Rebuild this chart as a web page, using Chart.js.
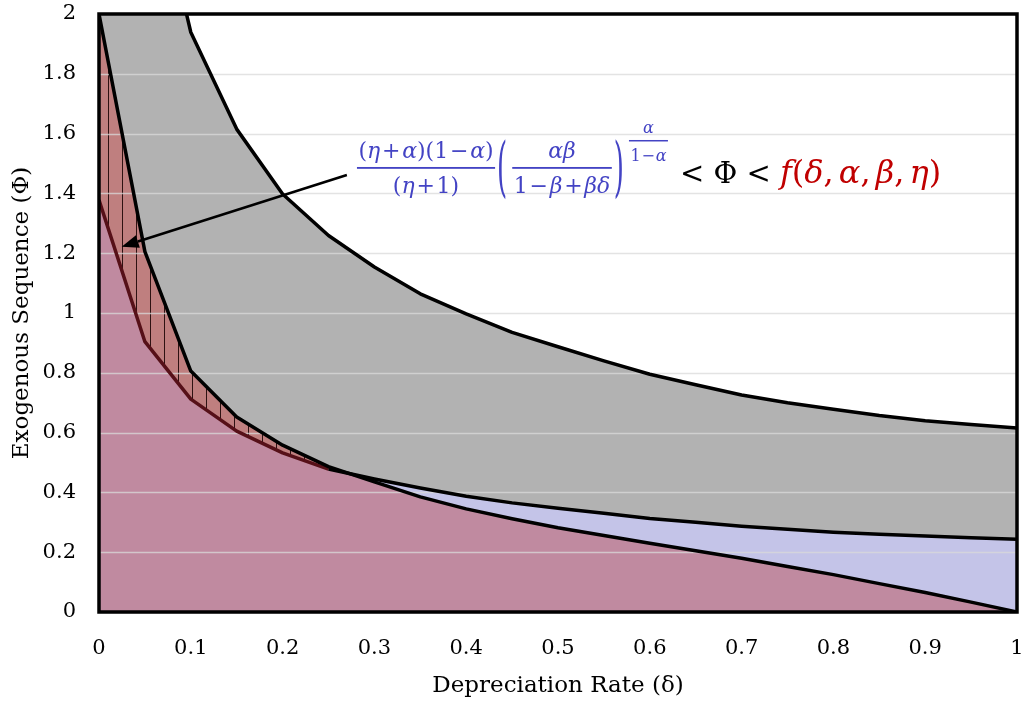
<!DOCTYPE html>
<html>
<head>
<meta charset="utf-8">
<script src="https://cdn.jsdelivr.net/npm/chart.js@4.4.0/dist/chart.umd.min.js"></script>
<style>
  html, body { margin: 0; padding: 0; background: #fff; overflow: hidden; }
  canvas { display: block; }
</style>
</head>
<body>
<canvas id="phiChart" width="1024" height="702"></canvas>
<script>
// Depreciation rate grid (x) and the three boundary curves (y)
const deltas     = [0, 0.05, 0.1, 0.15, 0.2, 0.25, 0.3, 0.35, 0.4, 0.45, 0.5, 0.55, 0.6, 0.65, 0.7, 0.75, 0.8, 0.85, 0.9, 0.95, 1];
const upperCurve = [4.5, 2.59, 1.939, 1.615, 1.398, 1.259, 1.154, 1.064, 0.997, 0.935, 0.887, 0.84, 0.795, 0.76, 0.726, 0.70, 0.678, 0.657, 0.640, 0.627, 0.615];
const fCurve     = [2.0, 1.205, 0.806, 0.652, 0.558, 0.486, 0.435, 0.385, 0.345, 0.312, 0.282, 0.256, 0.23, 0.205, 0.18, 0.152, 0.125, 0.095, 0.065, 0.033, 0];
const lowerCurve = [1.378, 0.904, 0.712, 0.605, 0.532, 0.478, 0.445, 0.415, 0.387, 0.365, 0.347, 0.33, 0.313, 0.30, 0.287, 0.277, 0.267, 0.26, 0.254, 0.248, 0.243];

const xTicks = [0, 0.1, 0.2, 0.3, 0.4, 0.5, 0.6, 0.7, 0.8, 0.9, 1];
const yTicks = [0, 0.2, 0.4, 0.6, 0.8, 1, 1.2, 1.4, 1.6, 1.8, 2];

// Annotation anchors (data coordinates)
const arrowFrom = [0.270, 1.4615];
const arrowTo = [0.0247, 1.2217];
const formulaAt = [0.281, 1.485];

const SERIF = '"DejaVu Serif", "Liberation Serif", serif';
const BLUE = '#4343C4';
const RED = '#C00000';

const pts = arr => deltas.map((d, i) => ({x: d, y: arr[i]}));

// Hatch pattern for the feasible band
function makeHatch() {
    const c = document.createElement('canvas');
    c.width = 14; c.height = 4;
    const g = c.getContext('2d');
    g.fillStyle = '#BF7F7F';
    g.fillRect(0, 0, 14, 4);
    g.fillStyle = '#2e1212';
    g.fillRect(10, 0, 1, 4);
    return g.createPattern(c, 'repeat');
}

// Draw a math string char by char; greek letters and f in italic, spaced operators
function mathText(ctx, str, x, y, size, color, opts) {
    opts = opts || {};
    let cx = x;
    for (const ch of str) {
        const italic = /[αβδηf]/.test(ch);
        const isOp = /[+−]/.test(ch) && opts.ops;
        ctx.font = (italic ? 'italic ' : '') + size + 'px ' + SERIF;
        if (isOp) cx += opts.ops * size;
        if (!opts.measure) {
            ctx.fillStyle = color;
            ctx.fillText(ch, cx, y);
        }
        cx += ctx.measureText(ch).width;
        if (isOp) cx += opts.ops * size;
        if (ch === ',' && opts.comma) cx += opts.comma * size;
    }
    return cx - x;
}

function fraction(ctx, num, den, x, barY, size, color, gapUp, gapDown, ops) {
    const wn = mathText(ctx, num, 0, 0, size, color, {ops: ops, measure: true});
    const wd = mathText(ctx, den, 0, 0, size, color, {ops: ops, measure: true});
    const w = Math.max(wn, wd) + 3;
    mathText(ctx, num, x + (w - wn) / 2, barY - gapUp, size, color, {ops: ops});
    mathText(ctx, den, x + (w - wd) / 2, barY + gapDown, size, color, {ops: ops});
    ctx.fillStyle = color;
    ctx.fillRect(x, barY - 1, w, Math.max(1.5, size / 12));
    return w;
}

function bigParen(ctx, ch, x, cy, size, stretch, color) {
    ctx.save();
    ctx.font = size + 'px ' + SERIF;
    ctx.fillStyle = color;
    ctx.translate(x, cy);
    ctx.scale(1, stretch);
    ctx.fillText(ch, 0, 0.315 * size);
    const w = ctx.measureText(ch).width;
    ctx.restore();
    return w;
}

const decorPlugin = {
    id: 'decor',
    beforeDatasetsDraw(chart) {
        // light horizontal gridlines over the fills, under the curves
        const {ctx, chartArea: a, scales: {y}} = chart;
        ctx.save();
        ctx.strokeStyle = 'rgba(218,218,218,0.75)';
        ctx.lineWidth = 1.5;
        y.ticks.forEach(t => {
            const py = Math.round(y.getPixelForValue(t.value)) + 0.5;
            ctx.beginPath();
            ctx.moveTo(a.left, py);
            ctx.lineTo(a.right, py);
            ctx.stroke();
        });
        ctx.restore();
    },
    afterDraw(chart) {
        const {ctx, chartArea: a, scales: {x, y}} = chart;
        ctx.save();
        // plot frame
        ctx.strokeStyle = '#000';
        ctx.lineWidth = 3.5;
        ctx.strokeRect(a.left, a.top, a.right - a.left, a.bottom - a.top);

        // arrow
        const x0 = x.getPixelForValue(arrowFrom[0]), y0 = y.getPixelForValue(arrowFrom[1]);
        const x1 = x.getPixelForValue(arrowTo[0]), y1 = y.getPixelForValue(arrowTo[1]);
        const ang = Math.atan2(y1 - y0, x1 - x0);
        const hl = 17, hw = 6.5;
        const bx = x1 - hl * Math.cos(ang), by = y1 - hl * Math.sin(ang);
        ctx.lineWidth = 2.5;
        ctx.beginPath();
        ctx.moveTo(x0, y0);
        ctx.lineTo(bx, by);
        ctx.stroke();
        ctx.fillStyle = '#000';
        ctx.beginPath();
        ctx.moveTo(x1, y1);
        ctx.lineTo(bx + hw * Math.sin(ang), by - hw * Math.cos(ang));
        ctx.lineTo(bx - hw * Math.sin(ang), by + hw * Math.cos(ang));
        ctx.closePath();
        ctx.fill();

        // formula
        ctx.textBaseline = 'alphabetic';
        ctx.textAlign = 'left';
        let cx = x.getPixelForValue(formulaAt[0]);
        const by0 = y.getPixelForValue(formulaAt[1]);
        cx += fraction(ctx, '(η+α)(1−α)', '(η+1)', cx, by0, 22, BLUE, 10, 25, 0.08);
        cx += 2;
        cx += bigParen(ctx, '(', cx, by0, 26, 2.55, BLUE);
        cx += 5;
        cx += fraction(ctx, 'αβ', '1−β+βδ', cx, by0, 22, BLUE, 10, 25, 0.08);
        cx += 2;
        cx += bigParen(ctx, ')', cx, by0, 26, 2.55, BLUE);
        cx += 5;
        cx += fraction(ctx, 'α', '1−α', cx, by0 - 27, 16, BLUE, 8, 20, 0.05);
        cx += 12;
        cx += mathText(ctx, '< Φ < ', cx, by0 + 15, 29, '#000');
        mathText(ctx, 'f(δ,α,β,η)', cx, by0 + 15, 32, RED, {comma: 0.16});
        ctx.restore();
    }
};

document.addEventListener('DOMContentLoaded', function() {
    const ctx = document.getElementById('phiChart').getContext('2d');
    const crossed = c => fCurve[c.p0DataIndex] > lowerCurve[c.p0DataIndex] &&
                         fCurve[c.p1DataIndex] > lowerCurve[c.p1DataIndex];
    const noGrid = {display: true, drawOnChartArea: false, drawTicks: true, color: 'rgba(0,0,0,0)'};

    new Chart(ctx, {
        type: 'line',
        data: {
            datasets: [{
                label: 'f(δ,α,β,η)',
                data: pts(fCurve),
                borderColor: '#000',
                borderWidth: 3.5,
                fill: {target: 1, above: makeHatch(), below: '#C4C4E8'}
            }, {
                label: 'Lower bound',
                data: pts(lowerCurve),
                borderColor: '#000',
                borderWidth: 3.5,
                backgroundColor: '#C08AA0',
                fill: 'origin',
                segment: {
                    borderColor: c => crossed(c) ? '#561018' : '#000'
                }
            }, {
                label: 'f base',
                data: pts(fCurve),
                borderWidth: 0,
                backgroundColor: '#C08AA0',
                fill: 'origin'
            }, {
                label: 'Upper bound',
                data: pts(upperCurve),
                borderColor: '#000',
                borderWidth: 3.5,
                backgroundColor: '#B2B2B2',
                fill: 'origin'
            }]
        },
        options: {
            responsive: false,
            devicePixelRatio: 1,
            animation: false,
            parsing: false,
            layout: {padding: {left: 0, right: 7, top: 14, bottom: 0}},
            elements: {
                point: {radius: 0, hoverRadius: 0},
                line: {tension: 0, borderJoinStyle: 'round'}
            },
            plugins: {
                legend: {display: false},
                tooltip: {enabled: false},
                filler: {drawTime: 'beforeDatasetsDraw'}
            },
            scales: {
                x: {
                    type: 'linear',
                    min: 0,
                    max: 1,
                    afterBuildTicks: s => { s.ticks = xTicks.map(v => ({value: v})); },
                    afterFit: s => { s.height = 90; },
                    grid: Object.assign({tickLength: 24}, noGrid),
                    border: {display: false},
                    ticks: {
                        padding: 0,
                        color: '#000',
                        maxRotation: 0,
                        autoSkip: false,
                        font: {family: SERIF, size: 21},
                        callback: v => String(v)
                    },
                    title: {
                        display: true,
                        text: 'Depreciation Rate (δ)',
                        color: '#000',
                        font: {family: SERIF, size: 23},
                        padding: {top: 0, bottom: 2}
                    }
                },
                y: {
                    type: 'linear',
                    min: 0,
                    max: 2,
                    afterBuildTicks: s => { s.ticks = yTicks.map(v => ({value: v})); },
                    afterFit: s => { s.width = 99; },
                    grid: Object.assign({tickLength: 23}, noGrid),
                    border: {display: false},
                    ticks: {
                        padding: 0,
                        color: '#000',
                        autoSkip: false,
                        font: {family: SERIF, size: 21},
                        callback: v => String(v)
                    },
                    title: {
                        display: true,
                        text: 'Exogenous Sequence (Φ)',
                        color: '#000',
                        font: {family: SERIF, size: 23},
                        padding: {top: 8, bottom: 0}
                    }
                }
            }
        },
        plugins: [decorPlugin]
    });
});
</script>
</body>
</html>
